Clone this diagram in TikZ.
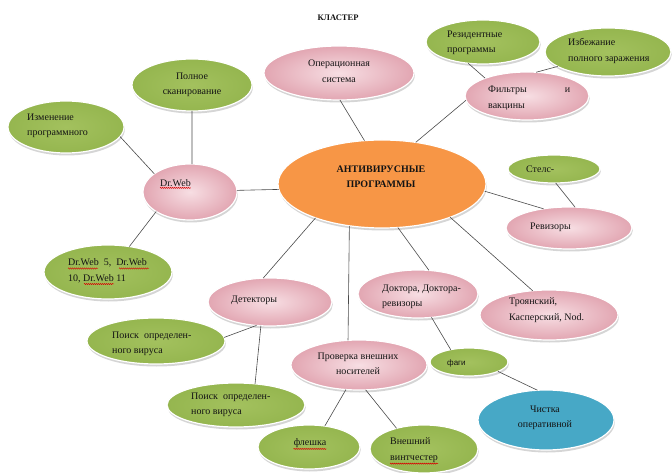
\documentclass[tikz,border=0pt]{standalone}
\usepackage{fontspec}
\setmainfont{Liberation Serif}
\newfontfamily\sansf{Liberation Sans}
\usetikzlibrary{shapes.geometric,shadows,decorations.pathmorphing}
\definecolor{pinkin}{HTML}{F7DEE3}
\definecolor{pinkout}{HTML}{E2A6B2}
\definecolor{greenin}{HTML}{A3C15E}
\definecolor{greenf}{HTML}{95B64F}
\definecolor{orangef}{HTML}{F79646}
\definecolor{bluef}{HTML}{47A8C6}
\definecolor{lineg}{HTML}{4A4A4A}
\definecolor{txtc}{HTML}{141414}
\begin{document}
\begin{tikzpicture}[x=1pt,y=-1pt,
  base/.style={ellipse, inner sep=0pt, outer sep=0pt, draw=white, line width=1.2pt,
    drop shadow={shadow xshift=0.8pt, shadow yshift=-2.5pt, opacity=0.3, fill=black!55}},
  pinkell/.style={base, inner color=pinkin, outer color=pinkout},
  greenell/.style={base, inner color=greenin, outer color=greenf},
  orangeell/.style={base, fill=orangef},
  blueell/.style={base, fill=bluef},
  txt/.style={font=\fontsize{10}{15.5}\selectfont, text=txtc, inner sep=0pt, align=left},
  txtc/.style={txt, align=center},
  conn/.style={draw=lineg, line width=0.6pt},
  spell/.style={draw=red!85!black, line width=0.45pt, decorate,
    decoration={snake, amplitude=0.6pt, segment length=2pt}}
]
\useasboundingbox (0,0) rectangle (672,473);

% ellipses
\node[pinkell, minimum width=150pt, minimum height=54pt] (os) at (339,73) {};
\node[greenell, minimum width=120pt, minimum height=52pt] (full) at (192,85) {};
\node[greenell, minimum width=116pt, minimum height=52pt] (izm) at (66,127) {};
\node[pinkell, minimum width=94pt, minimum height=56pt] (dr) at (190,192) {};
\node[greenell, minimum width=128pt, minimum height=54pt] (dr5) at (108,272) {};
\node[orangeell, minimum width=208pt, minimum height=88pt] (av) at (382,184) {};
\node[greenell, minimum width=114pt, minimum height=44pt] (res) at (483,42) {};
\node[greenell, minimum width=126pt, minimum height=48pt] (izb) at (608,52) {};
\node[pinkell, minimum width=124pt, minimum height=48pt] (flt) at (527,96) {};
\node[greenell, minimum width=92pt, minimum height=28pt] (stl) at (554,169) {};
\node[pinkell, minimum width=126pt, minimum height=42pt] (rev) at (569,228) {};
\node[pinkell, minimum width=120pt, minimum height=48pt] (doc) at (418,294) {};
\node[pinkell, minimum width=138pt, minimum height=50pt] (tro) at (549,315) {};
\node[pinkell, minimum width=124pt, minimum height=48pt] (det) at (270,302) {};
\node[greenell, minimum width=138pt, minimum height=46pt] (p1) at (156,341) {};
\node[greenell, minimum width=138pt, minimum height=44pt] (p2) at (236,405) {};
\node[pinkell, minimum width=136pt, minimum height=50pt] (chk) at (359,365) {};
\node[greenell, minimum width=102pt, minimum height=44pt] (fl) at (309,447) {};
\node[greenell, minimum width=108pt, minimum height=48pt] (vn) at (424,449) {};
\node[greenell, minimum width=78pt, minimum height=28pt] (fagi) at (469,362) {};
\node[blueell, minimum width=136pt, minimum height=60pt] (chi) at (546,420) {};

% connectors
\draw[conn] (os.272) -- (av.112);
\draw[conn] (flt.184) -- (av.51);
\draw[conn] (res.235) -- (flt.157);
\draw[conn] (izb.196) -- (flt.69);
\draw[conn] (full.270) -- (dr.86);
\draw[conn] (izm.350) -- (dr.153);
\draw[conn] (dr.2) -- (av.183);
\draw[conn] (dr.210) -- (dr5.50);
\draw[conn] (av.207) -- (det.106);
\draw[conn] (av.232) -- (chk.114);
\draw[conn] (av.290) -- (doc.65);
\draw[conn] (av.334) -- (tro.124);
\draw[conn] (av.356) -- (rev.143);
\draw[conn] (stl.277) -- (rev.74);
\draw[conn] (det.240) -- (p1.3);
\draw[conn] (det.249) -- (p2.48);
\draw[conn] (chk.242) -- (fl.53);
\draw[conn] (chk.285) -- (vn.143);
\draw[conn] (doc.300) -- (fagi.146);
\draw[conn] (fagi.342) -- (chi.106);

% texts
\node[txt, font=\fontsize{8.5}{10}\selectfont\bfseries] (title) at (338,18) {КЛАСТЕР};
\node[txtc] (os-t) at (339,71) {Операционная\\система};
\node[txtc] (full-t) at (192,85) {Полное\\сканирование};
\node[txt, anchor=west] (izm-t) at (27,126) {Изменение\\программного};
\node[txt, anchor=west] (dr-t) at (160,183) {Dr.Web};
\node[txt, anchor=west] (dr5-t) at (68,271) {Dr.Web\ \ 5,\ \ Dr.Web\\10, Dr.Web 11};
\node[txtc, font=\fontsize{10}{15}\selectfont\bfseries] (av-t) at (381,177) {АНТИВИРУСНЫЕ\\ПРОГРАММЫ};
\node[txt, anchor=west] (res-t) at (447,43) {Резидентные\\программы};
\node[txt, anchor=west] (izb-t) at (568,51) {Избежание\\полного заражения};
\node[txt, anchor=west] (flt-t) at (488,98) {Фильтры\hspace{38pt}и\\вакцины};
\node[txt, anchor=west] (stl-t) at (526,169) {Стелс-};
\node[txt, anchor=west] (rev-t) at (530,227) {Ревизоры};
\node[txt, anchor=west] (doc-t) at (382,297) {Доктора, Доктора-\\ревизоры};
\node[txt, anchor=west] (tro-t) at (509,310) {Троянский,\\Касперский, Nod.};
\node[txt, anchor=west] (det-t) at (231,300) {Детекторы};
\node[txt, anchor=west] (p1-t) at (112,344) {Поиск\ \ определен-\\ного вируса};
\node[txt, anchor=west] (p2-t) at (191,405) {Поиск\ \ определен-\\ного вируса};
\node[txtc] (chk-t) at (358,364) {Проверка внешних\\носителей};
\node[txtc] (fl-t) at (310,443) {флешка};
\node[txt, anchor=west] (vn-t) at (390,450) {Внешний\\винтчестер};
\node[txt, anchor=west, font=\sansf\fontsize{8}{10}\selectfont] (fagi-t) at (447,363) {фаги};
\node[txtc] (chi-t) at (545,418) {Чистка\\оперативной};

% spell-check underlines
\draw[spell] ([yshift=-1.2pt]dr-t.south west) -- ([yshift=-1.2pt]dr-t.south east);
\draw[spell] ([yshift=-1.2pt]fl-t.south west) -- ([yshift=-1.2pt]fl-t.south east);
\draw[spell] ([yshift=-1.2pt]vn-t.south west) -- ([yshift=-1.2pt]vn-t.south east);
\draw[spell] (68,268.5) -- (98,268.5);
\draw[spell] (119,268.5) -- (149,268.5);
\draw[spell] (84,284) -- (114,284);
\end{tikzpicture}
\end{document}
